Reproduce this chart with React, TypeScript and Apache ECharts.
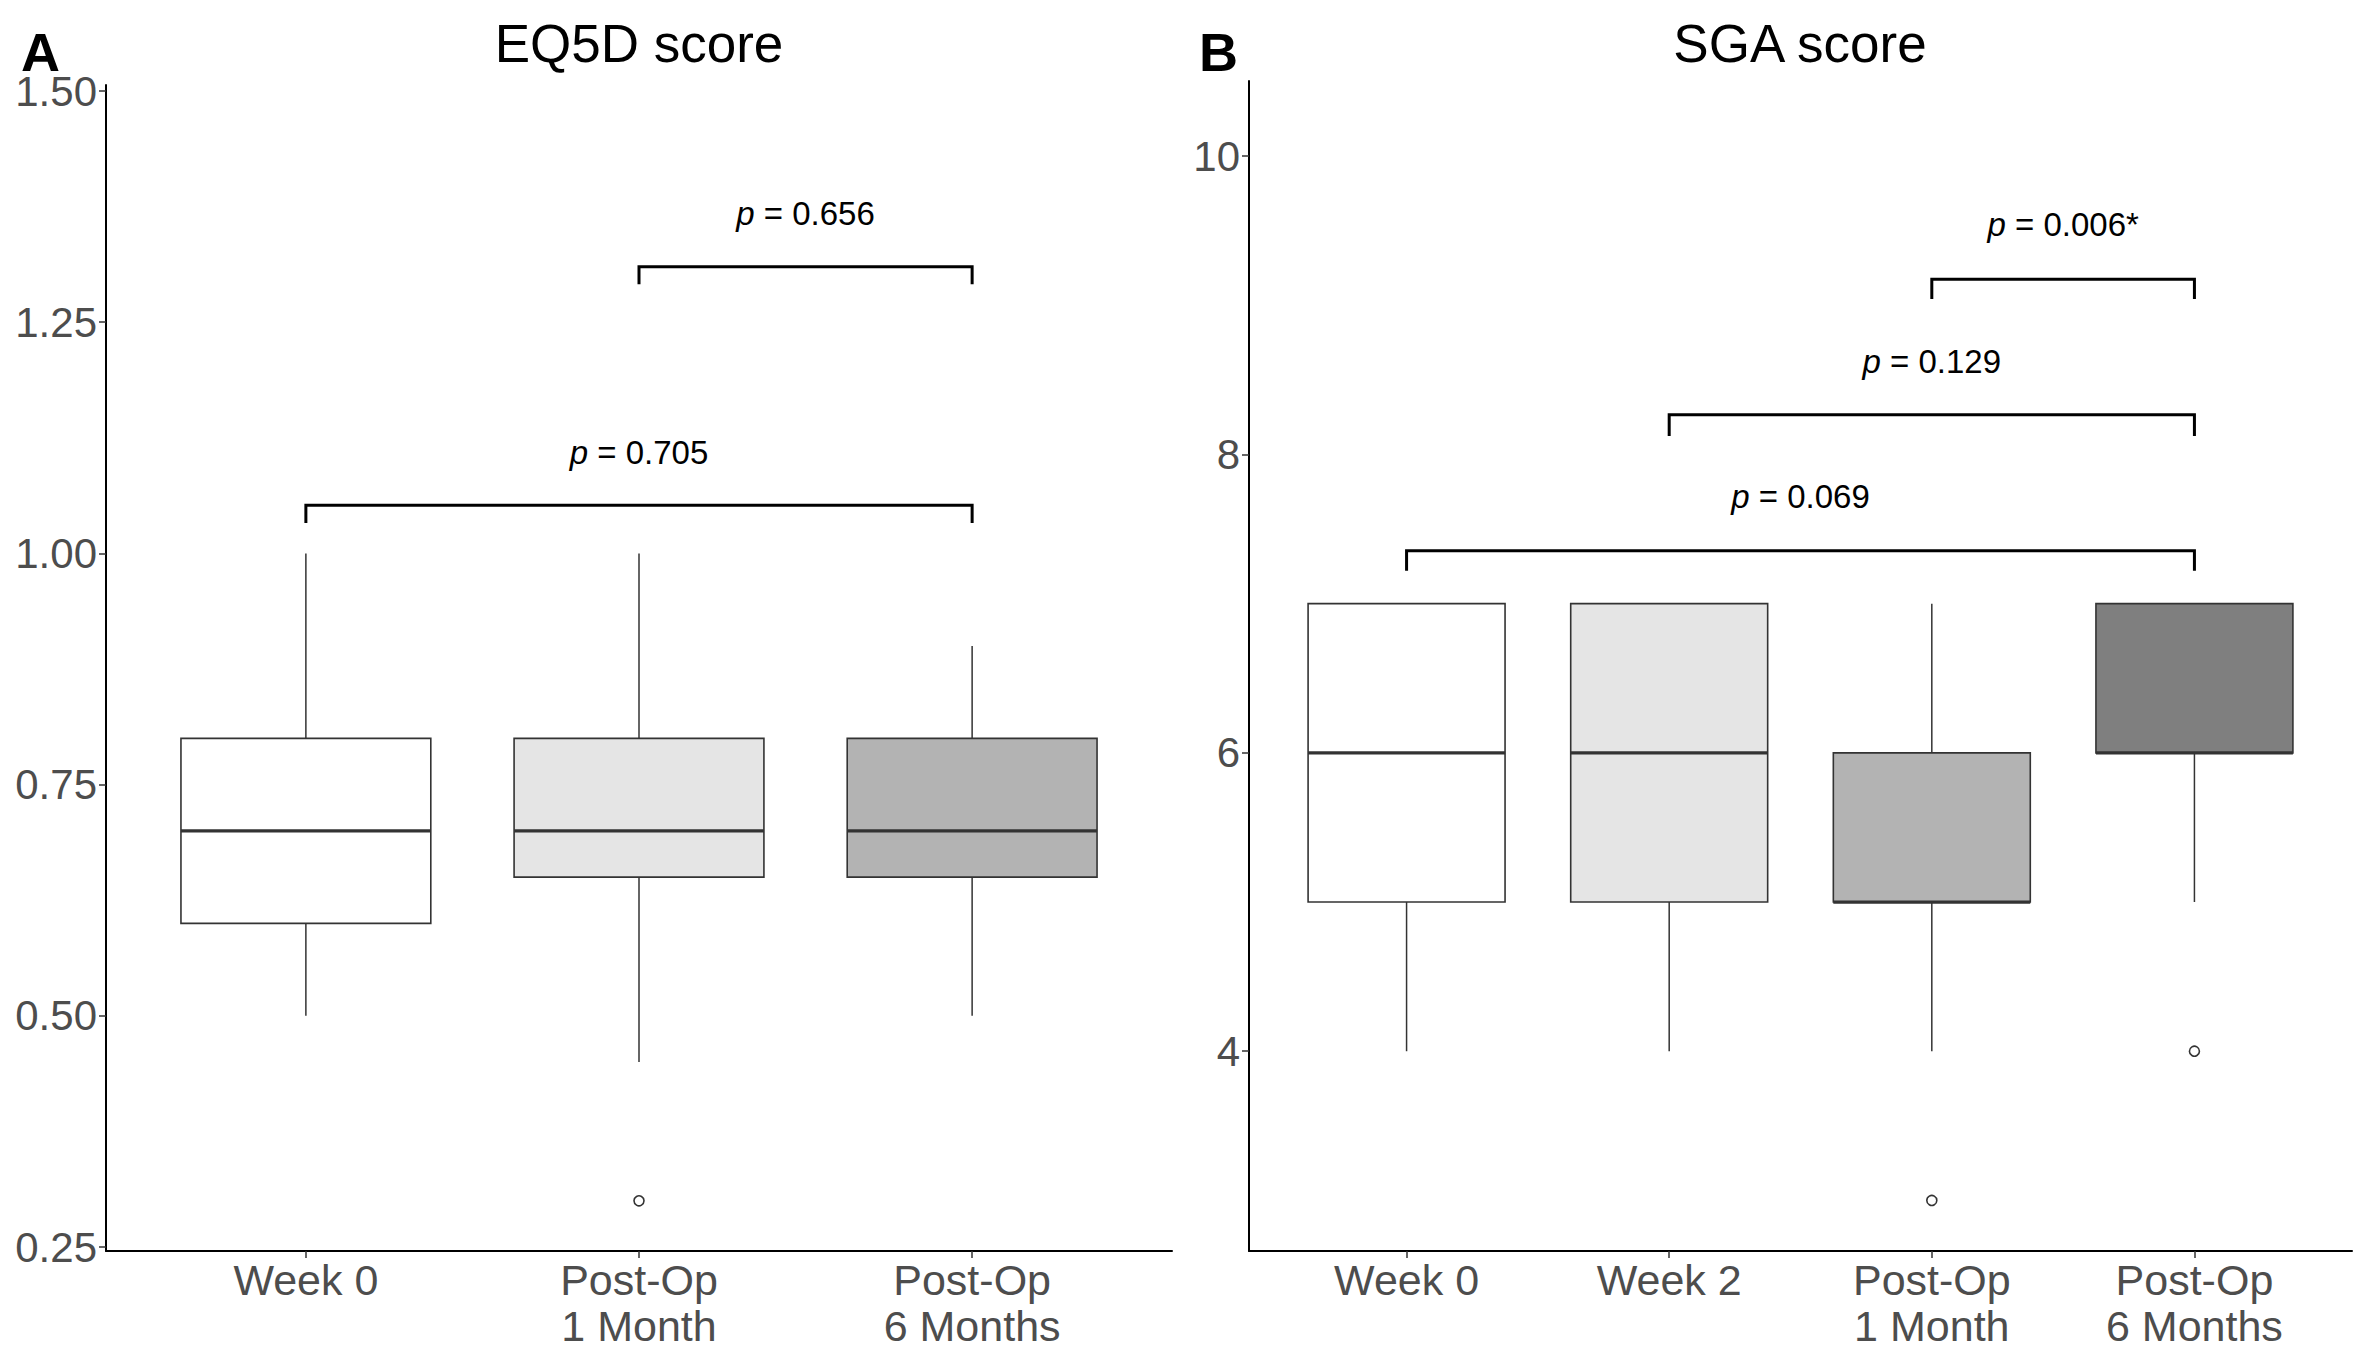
import React, { useEffect, useRef } from "react";
import * as echarts from "echarts";

// ---------- Panel A: EQ5D score ----------
const catsA = ["Week 0", "Post-Op\n1 Month", "Post-Op\n6 Months"];
const lowA = [0.5, 0.45, 0.5];
const q1A = [0.6, 0.65, 0.65];
const medA = [0.7, 0.7, 0.7];
const q3A = [0.8, 0.8, 0.8];
const highA = [1.0, 1.0, 0.9];
const outlierXA = [2];
const outlierYA = [0.3];
const fillA = ["#FFFFFF", "#E5E5E5", "#B3B3B3"];
const ticksA = [0.25, 0.5, 0.75, 1.0, 1.25, 1.5];
const bracketFromA = [1, 2];
const bracketToA = [3, 3];
const bracketYA = [1.052, 1.31];
const bracketTipA = [1.033, 1.291];
const bracketLabelYA = [1.109, 1.368];
const pLabelsA = ["0.705", "0.656"];

// ---------- Panel B: SGA score ----------
const catsB = ["Week 0", "Week 2", "Post-Op\n1 Month", "Post-Op\n6 Months"];
const lowB = [4, 4, 4, 5];
const q1B = [5, 5, 5, 6];
const medB = [6, 6, 5, 6];
const q3B = [7, 7, 6, 7];
const highB = [7, 7, 7, 7];
const outlierXB = [3, 4];
const outlierYB = [3, 4];
const fillB = ["#FFFFFF", "#E5E5E5", "#B3B3B3", "#7F7F7F"];
const ticksB = [4, 6, 8, 10];
const bracketFromB = [1, 2, 3];
const bracketToB = [4, 4, 4];
const bracketYB = [7.355, 8.266, 9.174];
const bracketTipB = [7.221, 8.123, 9.042];
const bracketLabelYB = [7.721, 8.626, 9.544];
const pLabelsB = ["0.069", "0.129", "0.006*"];

const FONT = "Liberation Sans, Arial, sans-serif";
const AXIS_COL = "#4D4D4D";
const LINE_COL = "#333333";
const BOX_HALF = 0.375;

function boxSeries(idx: number, low: number[], q1: number[], med: number[], q3: number[], high: number[], fills: string[]) {
  const data = low.map((_, i) => [i + 1, low[i], q1[i], med[i], q3[i], high[i]]);
  return {
    type: "custom",
    xAxisIndex: idx,
    yAxisIndex: idx,
    clip: false,
    encode: { x: 0, y: [1, 2, 3, 4, 5] },
    data,
    renderItem: (params: any, api: any) => {
      const x = api.value(0);
      const lo = api.value(1);
      const a = api.value(2);
      const m = api.value(3);
      const b = api.value(4);
      const hi = api.value(5);
      const c = (xx: number, v: number) => api.coord([xx, v]);
      const tl = c(x - BOX_HALF, b);
      const br = c(x + BOX_HALF, a);
      const ml = c(x - BOX_HALF, m);
      const mr = c(x + BOX_HALF, m);
      const wHi = c(x, hi);
      const wB = c(x, b);
      const wLo = c(x, lo);
      const wA = c(x, a);
      return {
        type: "group",
        children: [
          { type: "line", shape: { x1: wHi[0], y1: wHi[1], x2: wB[0], y2: wB[1] }, style: { stroke: LINE_COL, lineWidth: 1.5 } },
          { type: "line", shape: { x1: wLo[0], y1: wLo[1], x2: wA[0], y2: wA[1] }, style: { stroke: LINE_COL, lineWidth: 1.5 } },
          {
            type: "rect",
            shape: { x: tl[0], y: tl[1], width: br[0] - tl[0], height: br[1] - tl[1] },
            style: { fill: fills[params.dataIndex], stroke: LINE_COL, lineWidth: 1.6 },
          },
          { type: "line", shape: { x1: ml[0], y1: ml[1], x2: mr[0], y2: mr[1] }, style: { stroke: LINE_COL, lineWidth: 3.2 } },
        ],
      };
    },
  };
}

function bracketSeries(idx: number, from: number[], to: number[], ys: number[], tips: number[], labelYs: number[], labels: string[]) {
  const data = from.map((_, i) => [from[i], to[i], ys[i], tips[i], labelYs[i]]);
  return {
    type: "custom",
    xAxisIndex: idx,
    yAxisIndex: idx,
    clip: false,
    encode: { x: [0, 1], y: [2, 3, 4] },
    data,
    renderItem: (params: any, api: any) => {
      const f = api.value(0);
      const t = api.value(1);
      const y = api.value(2);
      const tip = api.value(3);
      const ly = api.value(4);
      const p1 = api.coord([f, tip]);
      const p2 = api.coord([f, y]);
      const p3 = api.coord([t, y]);
      const p4 = api.coord([t, tip]);
      const lp = api.coord([(f + t) / 2, ly]);
      return {
        type: "group",
        children: [
          {
            type: "polyline",
            shape: { points: [p1, p2, p3, p4] },
            style: { stroke: "#000000", lineWidth: 3, fill: null, lineJoin: "miter" },
          },
          {
            type: "text",
            x: lp[0],
            y: lp[1],
            style: {
              text: "{i|p}{n| = " + labels[params.dataIndex] + "}",
              textAlign: "center",
              textVerticalAlign: "middle",
              fontSize: 33,
              fontFamily: FONT,
              fill: "#000000",
              rich: {
                i: { fontStyle: "italic", fontSize: 33, fontFamily: FONT, fill: "#000000" },
                n: { fontSize: 33, fontFamily: FONT, fill: "#000000" },
              },
            },
          },
        ],
      };
    },
  };
}

function xAxisDef(idx: number, cats: string[]) {
  const vals = cats.map((_, i) => i + 1);
  return {
    gridIndex: idx,
    type: "value",
    min: 0.4,
    max: cats.length + 0.6,
    axisLine: { show: true, onZero: false, lineStyle: { color: "#000000", width: 2 } },
    axisTick: { show: true, customValues: vals, length: 7, lineStyle: { color: LINE_COL, width: 1.5 } },
    axisLabel: {
      customValues: vals,
      formatter: (v: number) => cats[Math.round(v) - 1] ?? "",
      fontSize: 43,
      fontFamily: FONT,
      color: AXIS_COL,
      lineHeight: 46,
      margin: 6,
    },
    splitLine: { show: false },
  };
}

function yAxisDef(idx: number, min: number, max: number, ticks: number[], digits: number) {
  return {
    gridIndex: idx,
    type: "value",
    min,
    max,
    axisLine: { show: true, onZero: false, lineStyle: { color: "#000000", width: 2 } },
    axisTick: { show: true, customValues: ticks, length: 7, lineStyle: { color: LINE_COL, width: 1.5 } },
    axisLabel: {
      customValues: ticks,
      formatter: (v: number) => v.toFixed(digits),
      fontSize: 42,
      lineHeight: 40,
      fontFamily: FONT,
      color: AXIS_COL,
      margin: 9,
    },
    splitLine: { show: false },
  };
}

function outlierSeries(idx: number, xs: number[], ys: number[]) {
  return {
    type: "scatter",
    xAxisIndex: idx,
    yAxisIndex: idx,
    symbol: "circle",
    symbolSize: 10,
    itemStyle: { color: "#FFFFFF", borderColor: "#000000", borderWidth: 1.6 },
    data: xs.map((x, i) => [x, ys[i]]),
    z: 5,
  };
}

export default function App() {
  const ref = useRef<HTMLDivElement>(null);
  useEffect(() => {
    if (!ref.current) return;
    const chart = echarts.init(ref.current, undefined, { renderer: "svg" });
    const option: any = {
      animation: false,
      backgroundColor: "#FFFFFF",
      grid: [
        { left: 106, top: 85, width: 1066, height: 1166 },
        { left: 1249, top: 81, width: 1103, height: 1170 },
      ],
      xAxis: [xAxisDef(0, catsA), xAxisDef(1, catsB)],
      yAxis: [yAxisDef(0, 0.2457, 1.5065, ticksA, 2), yAxisDef(1, 2.661, 10.503, ticksB, 0)],
      series: [
        boxSeries(0, lowA, q1A, medA, q3A, highA, fillA),
        outlierSeries(0, outlierXA, outlierYA),
        bracketSeries(0, bracketFromA, bracketToA, bracketYA, bracketTipA, bracketLabelYA, pLabelsA),
        boxSeries(1, lowB, q1B, medB, q3B, highB, fillB),
        outlierSeries(1, outlierXB, outlierYB),
        bracketSeries(1, bracketFromB, bracketToB, bracketYB, bracketTipB, bracketLabelYB, pLabelsB),
      ],
      graphic: [
        {
          type: "text",
          x: 639,
          y: 43,
          style: { text: "EQ5D score", textAlign: "center", textVerticalAlign: "middle", fontSize: 53, fontFamily: FONT, fill: "#000000" },
        },
        {
          type: "text",
          x: 1800,
          y: 43,
          style: { text: "SGA score", textAlign: "center", textVerticalAlign: "middle", fontSize: 53, fontFamily: FONT, fill: "#000000" },
        },
        {
          type: "text",
          x: 21,
          y: 52,
          style: { text: "A", textAlign: "left", textVerticalAlign: "middle", fontSize: 54, lineHeight: 32, fontWeight: "bold", fontFamily: FONT, fill: "#000000" },
        },
        {
          type: "text",
          x: 1199,
          y: 52,
          style: { text: "B", textAlign: "left", textVerticalAlign: "middle", fontSize: 54, lineHeight: 32, fontWeight: "bold", fontFamily: FONT, fill: "#000000" },
        },
      ],
    };
    chart.setOption(option);
    return () => chart.dispose();
  }, []);
  return (
    <div
      ref={ref}
      style={{ position: "fixed", left: 0, top: 0, width: 2356, height: 1360, background: "#FFFFFF" }}
    />
  );
}
